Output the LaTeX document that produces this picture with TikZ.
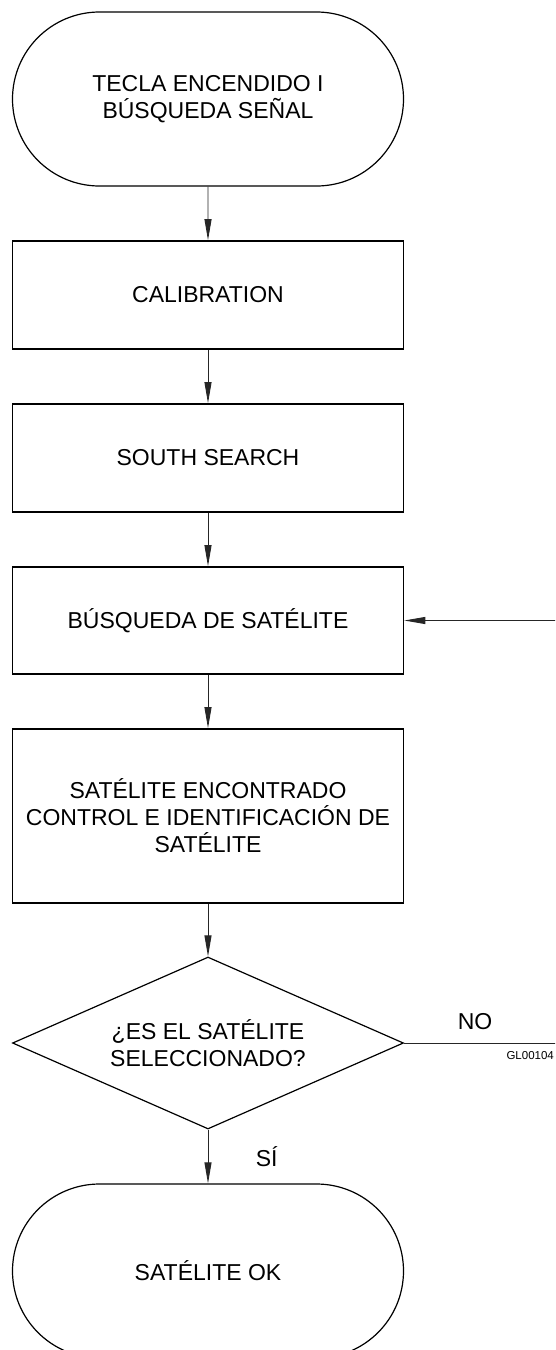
\documentclass[tikz,border=0pt]{standalone}
\usepackage{fontspec}
\setmainfont{Liberation Sans}
\usetikzlibrary{shapes.geometric, shapes.misc, arrows.meta, positioning}

\begin{document}
\begin{tikzpicture}[
    x=1pt, y=1pt,
    >={Triangle[length=21pt, width=7pt]},
    every node/.style={font=\fontsize{23}{27}\selectfont, align=center, text=black},
    term/.style={
        rounded rectangle,
        draw=black,
        line width=1.2pt,
        minimum width=391pt,
        minimum height=174pt,
        inner sep=0pt
    },
    proc/.style={
        rectangle,
        draw=black,
        line width=1.6pt,
        minimum width=391pt,
        inner sep=0pt
    },
    decision/.style={
        diamond,
        draw=black,
        line width=1.2pt,
        minimum width=391pt,
        minimum height=172pt,
        aspect=2.27,
        inner sep=0pt
    },
    flow/.style={draw=black!85, line width=0.9pt, ->},
    code/.style={font=\fontsize{11.5}{13}\selectfont}
]

\path[use as bounding box, clip] (0,0) rectangle (555,-1350);

\node[term] (start) at (208,-99) {TECLA ENCENDIDO I\\BÚSQUEDA SEÑAL};
\node[proc, minimum height=108pt] (calib) at (208,-295) {CALIBRATION};
\node[proc, minimum height=108pt] (south) at (208,-458) {SOUTH SEARCH};
\node[proc, minimum height=107pt] (search) at (208,-620.5) {BÚSQUEDA DE SATÉLITE};
\node[proc, minimum height=174pt] (found) at (208,-816) {SATÉLITE ENCONTRADO\\CONTROL E IDENTIFICACIÓN DE\\SATÉLITE};
\node[decision] (check) at (208,-1043) {¿ES EL SATÉLITE\\SELECCIONADO?};
\node[term] (ok) at (208,-1271) {SATÉLITE OK};

% main flow
\draw[flow] (start) -- (calib);
\draw[flow] (calib) -- (south);
\draw[flow] (south) -- (search);
\draw[flow] (search) -- (found);
\draw[flow] (found) -- (check);
\draw[flow] (check) -- node[right=44pt] (yes) {SÍ} (ok);

% back to the search
\draw[flow] (check.east) -- ++(170,0) |- (search.east);
\node (no) at (475,-1022) {NO};
\node[code, anchor=west] (ref) at (503,-1056) {GL00104};

\end{tikzpicture}
\end{document}
